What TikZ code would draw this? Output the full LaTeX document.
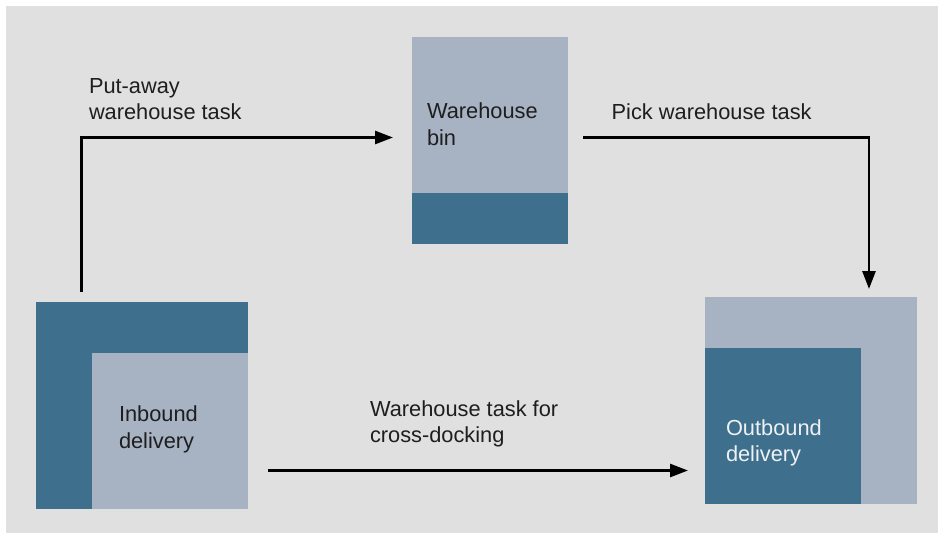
\documentclass[tikz,border=0pt]{standalone}
\usepackage{fontspec}
\setmainfont{Liberation Sans}
\usetikzlibrary{arrows.meta}
\definecolor{bggray}{HTML}{DFE0DF}
\definecolor{lightbox}{HTML}{A7B3C3}
\definecolor{darkbox}{HTML}{3E6F8C}
\definecolor{txt}{HTML}{1E1E1E}
\definecolor{wtxt}{HTML}{EEF2F5}
\tikzset{
  box/.style={draw=none, inner sep=0pt, outer sep=0pt, anchor=north west},
  lbl/.style={inner sep=0pt, outer sep=0pt, anchor=base west, align=left,
    font=\fontsize{21.8pt}{26.5pt}\selectfont, text=txt},
  arr/.style={line width=2.7pt, draw=black, -{Triangle[length=18pt,width=13pt]}}
}
\begin{document}
\begin{tikzpicture}[x=1pt,y=-1pt]
\useasboundingbox (0,0) rectangle (938,533);
\fill[bggray] (6,6) rectangle (938,533);
% Inbound delivery
\node[box, fill=darkbox, minimum width=212pt, minimum height=207pt] (inb) at (36,302) {};
\node[box, fill=lightbox, minimum width=156pt, minimum height=156pt] (inbi) at (92,353) {};
\node[lbl] (inbt) at (119,448) {Inbound\\delivery};
% Warehouse bin
\node[box, fill=lightbox, minimum width=156pt, minimum height=207pt] (bin) at (412,37) {};
\node[box, fill=darkbox, minimum width=156pt, minimum height=51pt] (bind) at (412,193) {};
\node[lbl] (bint) at (427,145) {Warehouse\\bin};
% Outbound delivery
\node[box, fill=lightbox, minimum width=212pt, minimum height=207pt] (outb) at (705,297) {};
\node[box, fill=darkbox, minimum width=156pt, minimum height=156pt] (outbi) at (705,348) {};
\node[lbl, text=wtxt] (outbt) at (726,461.5) {Outbound\\delivery};
% connectors
\draw[arr] ([xshift=45.5pt,yshift=10pt]inb.north west) |- ([xshift=-19pt,yshift=3pt]bin.west);
\draw[arr] ([xshift=15pt,yshift=3pt]bin.east) -| ([xshift=164pt,yshift=8pt]outb.north west);
\draw[arr] ([xshift=20pt,yshift=38.5pt]inb.south east) -- ([xshift=-17pt,yshift=38.5pt]inb.south east -| outb.west);
% labels
\node[lbl] (l1) at (89,119.5) {Put-away\\warehouse task};
\node[lbl] (l2) at (611.7,119) {Pick warehouse task};
\node[lbl] (l3) at (370,442.5) {Warehouse task for\\cross-docking};
\end{tikzpicture}
\end{document}
